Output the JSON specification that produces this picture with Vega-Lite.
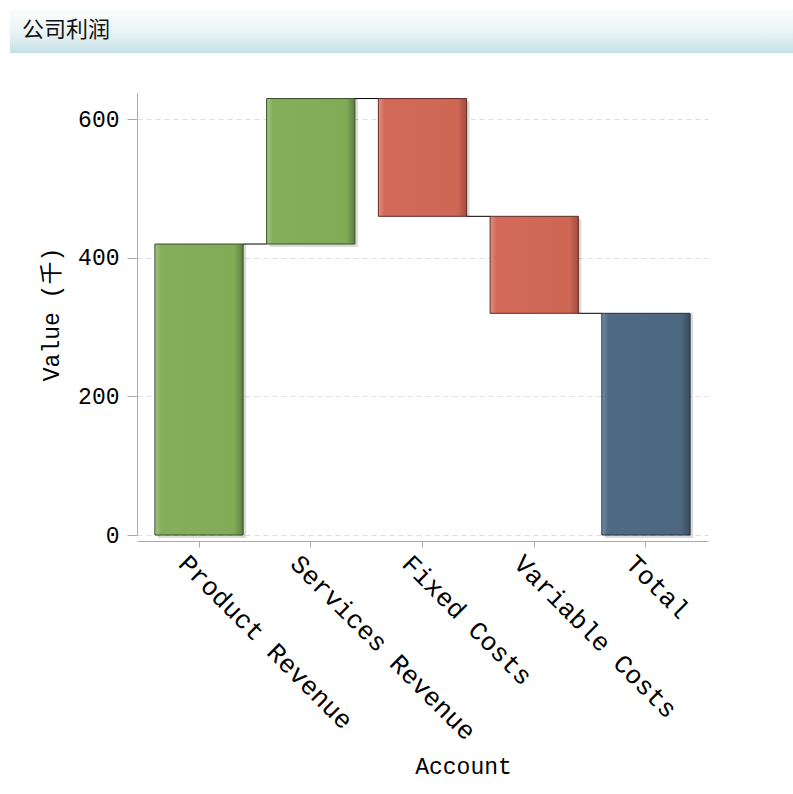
{
  "$schema": "https://vega.github.io/schema/vega-lite/v6.json",
  "padding": {"left": 10, "top": 10, "right": 0, "bottom": 8},
  "columns": 2,
  "bounds": "flush",
  "spacing": {"row": 40, "column": 0},
  "config": {"view": {"stroke": null}},
  "datasets": {
    "header": [{"label": "公司利润"}],
    "empty": [],
    "accounts": [
      {"Account": "Product Revenue", "start": 0, "end": 420, "kind": "increase", "next": "Services Revenue"},
      {"Account": "Services Revenue", "start": 420, "end": 630, "kind": "increase", "next": "Fixed Costs"},
      {"Account": "Fixed Costs", "start": 630, "end": 460, "kind": "decrease", "next": "Variable Costs"},
      {"Account": "Variable Costs", "start": 460, "end": 320, "kind": "decrease", "next": "Total"},
      {"Account": "Total", "start": 0, "end": 320, "kind": "total", "next": null}
    ]
  },
  "concat": [
    {
      "width": 127,
      "height": 43,
      "data": {"name": "header"},
      "title": {
        "text": "公司利润",
        "anchor": "start",
        "frame": "group",
        "orient": "top",
        "offset": -49,
        "baseline": "alphabetic",
        "dx": 12,
        "font": "Noto Sans CJK SC",
        "fontSize": 22,
        "fontWeight": "normal",
        "color": "#111111"
      },
      "mark": {
        "type": "rect",
        "color": {
          "gradient": "linear",
          "x1": 0, "y1": 0, "x2": 0, "y2": 1,
          "stops": [
            {"offset": 0, "color": "#fbfcfc"},
            {"offset": 0.5, "color": "#eaf4f5"},
            {"offset": 1, "color": "#c5e1e6"}
          ]
        }
      }
    },
    {
      "width": 656,
      "height": 43,
      "data": {"name": "header"},
      "mark": {
        "type": "rect",
        "color": {
          "gradient": "linear",
          "x1": 0, "y1": 0, "x2": 0, "y2": 1,
          "stops": [
            {"offset": 0, "color": "#fbfcfc"},
            {"offset": 0.5, "color": "#eaf4f5"},
            {"offset": 1, "color": "#c5e1e6"}
          ]
        }
      }
    },
    {
      "width": 127,
      "height": 442,
      "data": {"name": "empty"},
      "mark": "point"
    },
    {
      "width": 571,
      "height": 442,
      "data": {"name": "accounts"},
      "encoding": {
        "x": {
          "field": "Account",
          "type": "nominal",
          "scale": {
            "domain": ["Product Revenue", "Services Revenue", "Fixed Costs", "Variable Costs", "Total"],
            "paddingInner": 0.21,
            "paddingOuter": 0.16
          },
          "axis": {
            "labelAngle": 45,
            "labelLimit": 0,
            "labelFont": "Liberation Mono",
            "labelFontSize": 26,
            "labelColor": "#000000",
            "labelPadding": 3,
            "labelOffset": -7,
            "tickSize": 6,
            "tickColor": "#aaaaaa",
            "domainColor": "#aaaaaa",
            "offset": 6,
            "title": "Account",
            "titleFont": "Liberation Mono",
            "titleFontSize": 23,
            "titleFontWeight": "normal",
            "titleColor": "#000000",
            "titleX": 326,
            "titleY": 232,
            "titleBaseline": "alphabetic",
            "titleAlign": "center"
          }
        },
        "y": {
          "field": "start",
          "type": "quantitative",
          "scale": {"domain": [0, 638], "nice": false, "zero": true},
          "axis": {
            "values": [0, 200, 400, 600],
            "labelFont": "Liberation Mono",
            "labelFontSize": 23,
            "labelColor": "#000000",
            "labelPadding": 8,
            "tickSize": 10,
            "tickColor": "#aaaaaa",
            "domainColor": "#aaaaaa",
            "grid": true,
            "gridColor": "#dedede",
            "gridDash": [5, 4],
            "title": "Value (千)",
            "titleFont": "Liberation Mono, Noto Sans CJK SC",
            "titleFontSize": 23,
            "titleFontWeight": "normal",
            "titleColor": "#000000",
            "titlePadding": 14
          }
        },
        "y2": {"field": "end"}
      },
      "layer": [
        {
          "mark": {"type": "bar", "color": "#000000", "opacity": 0.14, "xOffset": 3, "yOffset": 3}
        },
        {
          "transform": [{"filter": "datum.kind == 'increase'"}],
          "mark": {
            "type": "bar",
            "stroke": "#3b4d2a",
            "strokeWidth": 1,
            "color": {
              "gradient": "linear", "x1": 0, "y1": 0, "x2": 1, "y2": 0,
              "stops": [
                {"offset": 0, "color": "#a3c585"},
                {"offset": 0.07, "color": "#84ae5a"},
                {"offset": 0.9, "color": "#82ab58"},
                {"offset": 1, "color": "#5e803f"}
              ]
            }
          }
        },
        {
          "transform": [{"filter": "datum.kind == 'decrease'"}],
          "mark": {
            "type": "bar",
            "stroke": "#5e2c24",
            "strokeWidth": 1,
            "color": {
              "gradient": "linear", "x1": 0, "y1": 0, "x2": 1, "y2": 0,
              "stops": [
                {"offset": 0, "color": "#e2907f"},
                {"offset": 0.07, "color": "#d26959"},
                {"offset": 0.9, "color": "#cf6757"},
                {"offset": 1, "color": "#a04c40"}
              ]
            }
          }
        },
        {
          "transform": [{"filter": "datum.kind == 'total'"}],
          "mark": {
            "type": "bar",
            "stroke": "#26323e",
            "strokeWidth": 1,
            "color": {
              "gradient": "linear", "x1": 0, "y1": 0, "x2": 1, "y2": 0,
              "stops": [
                {"offset": 0, "color": "#7890a6"},
                {"offset": 0.07, "color": "#506a84"},
                {"offset": 0.9, "color": "#4e6781"},
                {"offset": 1, "color": "#374b5f"}
              ]
            }
          }
        },
        {
          "transform": [{"filter": "datum.next != null"}],
          "mark": {"type": "rule", "color": "#000000", "strokeWidth": 1},
          "encoding": {
            "x": {"field": "Account", "type": "nominal", "bandPosition": 1},
            "x2": {"field": "next", "bandPosition": 0},
            "y": {"field": "end", "type": "quantitative"},
            "y2": null
          }
        }
      ]
    }
  ]
}
